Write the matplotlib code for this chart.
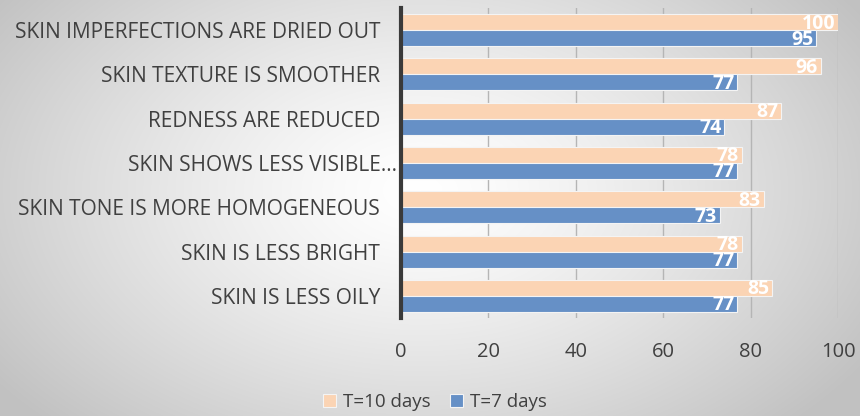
import matplotlib.pyplot as plt
import numpy as np
import matplotlib.transforms as mtransforms

plt.rcParams['font.family'] = ['Open Sans', 'DejaVu Sans']

# 数据
categories = ["SKIN IMPERFECTIONS ARE DRIED OUT", "SKIN TEXTURE IS SMOOTHER",
              "REDNESS ARE REDUCED", "SKIN SHOWS LESS VISIBLE…",
              "SKIN TONE IS MORE HOMOGENEOUS", "SKIN IS LESS BRIGHT",
              "SKIN IS LESS OILY"]
t10_values = [100, 96, 87, 78, 83, 78, 85]
t7_values = [95, 77, 74, 77, 73, 77, 77]
series_names = ["T=10 days", "T=7 days"]
x_ticks = [0, 20, 40, 60, 80, 100]

c_peach = '#FBD4B4'
c_blue = '#6690C6'
txt_color = '#404040'

fig = plt.figure(figsize=(8.6, 4.16), dpi=100)

# 背景径向渐变
bg = fig.add_axes([0, 0, 1, 1], zorder=-10)
yy, xx = np.mgrid[0:416, 0:860]
r = np.sqrt(((xx - 420) / 520.0) ** 2 + ((yy - 190) / 330.0) ** 2)
shade = 1 - 0.24 * np.clip(r, 0, 1) ** 1.3
bg.imshow(np.dstack([shade] * 3), aspect='auto', extent=[0, 1, 0, 1])
bg.axis('off')

ax = fig.add_axes([401 / 860, 98 / 416, 437 / 860, 310 / 416])
ax.patch.set_alpha(0)

y = np.arange(len(categories))
h = 0.36
b1 = ax.barh(y - h / 2, t10_values, height=h, color=c_peach, edgecolor='#f4f4f4', linewidth=0.8,
             label=series_names[0], zorder=3)
b2 = ax.barh(y + h / 2, t7_values, height=h, color=c_blue, edgecolor='#f4f4f4', linewidth=0.8,
             label=series_names[1], zorder=3)

for bars in (b1, b2):
    for rect in bars:
        v = rect.get_width()
        ax.annotate(f'{v:g}', xy=(v, rect.get_y() + rect.get_height() / 2),
                    xytext=(-2, -1), textcoords='offset points',
                    ha='right', va='center', color='white', fontsize=14,
                    fontweight='bold', zorder=5)

ax.set_xlim(0, 100)
ax.set_ylim(len(categories) - 0.5, -0.5)
ax.set_xticks(x_ticks)
ax.set_yticks(y)
ax.set_yticklabels(categories)
ax.tick_params(axis='both', length=0, colors=txt_color)
ax.tick_params(axis='y', pad=15, labelsize=15)
ax.tick_params(axis='x', pad=17, labelsize=14.5)
ax.grid(axis='x', color='#b5b5b5', linewidth=1, zorder=0)
for s in ['top', 'right', 'bottom']:
    ax.spines[s].set_visible(False)
ax.spines['left'].set_color('#3a3a3a')
ax.spines['left'].set_linewidth(3)
ax.spines['left'].set_zorder(6)

# 截断的那一项标签更靠右
lbl = ax.get_yticklabels()[3]
lbl.set_transform(lbl.get_transform() + mtransforms.ScaledTranslation(17 / 100, 0, fig.dpi_scale_trans))

fig.legend(loc='center', bbox_to_anchor=(435 / 860, 1 - 402 / 416), ncol=2, frameon=False,
           fontsize=13.5, handlelength=0.7, handleheight=0.7, handletextpad=0.4, columnspacing=1.0,
           labelcolor=txt_color)

fig.savefig('out.png', dpi=100)
